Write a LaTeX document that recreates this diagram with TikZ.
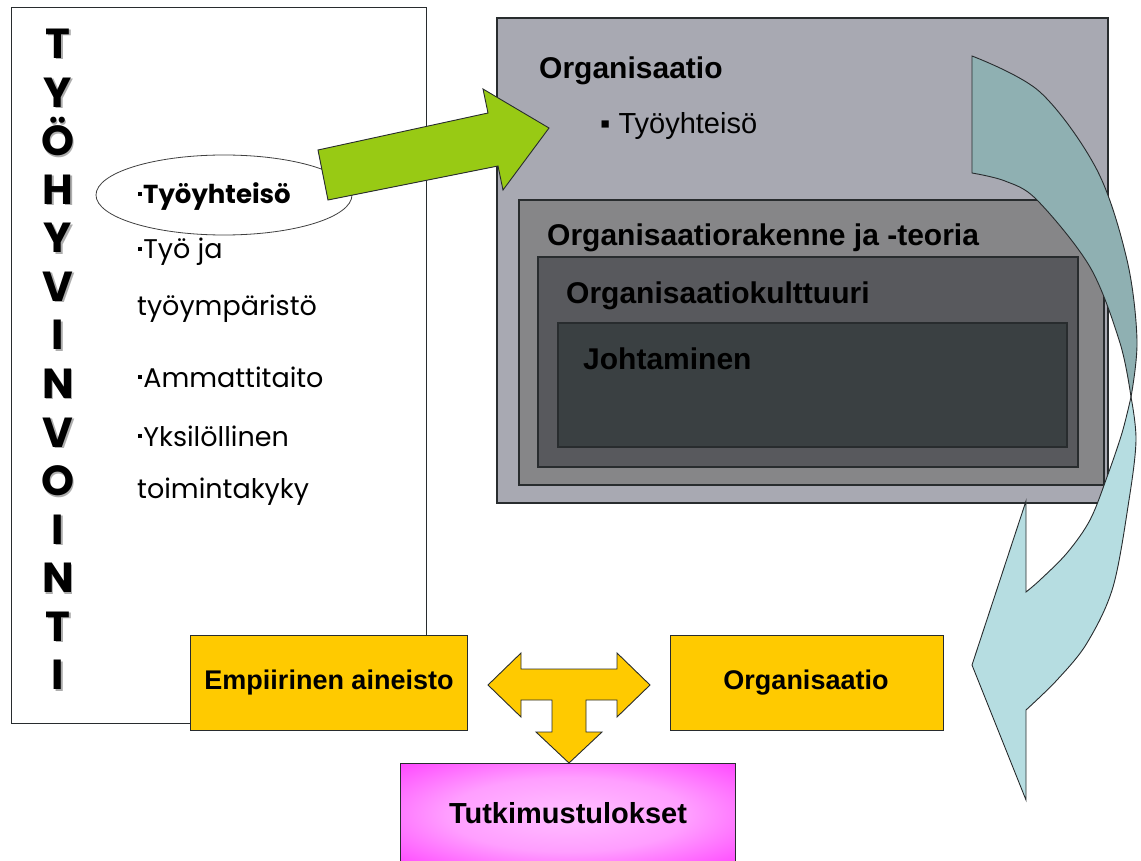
\documentclass[tikz,border=0pt]{standalone}
\usepackage{fontspec}
\setmainfont{Liberation Sans}
\newfontfamily\handfont{Poppins}
\definecolor{paneA}{RGB}{168,169,178}
\definecolor{paneB}{RGB}{134,134,136}
\definecolor{paneC}{RGB}{88,89,93}
\definecolor{paneD}{RGB}{58,64,66}
\definecolor{boxyellow}{RGB}{255,202,0}
\definecolor{limegreen}{RGB}{152,202,20}
\definecolor{tealback}{RGB}{143,176,178}
\definecolor{tealfront}{RGB}{182,221,225}
\definecolor{edge}{RGB}{40,44,46}
\pgfdeclareradialshading{pinkglow}{\pgfpoint{0bp}{0bp}}{%
  color(0bp)=(white!75!magenta); color(18bp)=(white!62!magenta);
  color(50bp)=(magenta)}
\newcommand\sqbullet{\raisebox{0.3em}{\rule{0.15em}{0.15em}}\hspace{0.04em}}
\begin{document}
\begin{tikzpicture}[x=1pt,y=-1pt,line join=miter,
  frame/.style={draw=edge,line width=1pt},
  pane/.style={draw=edge,line width=1.1pt},
  blockarrow/.style={draw=edge,line width=0.9pt},
  title/.style={font=\fontsize{30}{30}\selectfont\bfseries,anchor=base west,inner sep=0pt},
  subtitle/.style={font=\fontsize{29}{29}\selectfont,anchor=base west,inner sep=0pt},
  listitem/.style={font=\handfont\fontsize{27}{27}\selectfont,anchor=base west,inner sep=0pt},
  letter/.style={font=\handfont\bfseries\fontsize{42}{42}\selectfont,anchor=base,inner sep=0pt},
  boxlabel/.style={font=\fontsize{27}{27}\selectfont\bfseries,inner sep=0pt}]
\useasboundingbox (0,0) rectangle (1141,861);

% left panel with the vertical word
\draw[frame,fill=white] (11,8) rectangle (426,723);
\foreach \ch [count=\i from 0] in {T,Y,Ö,H,Y,V,I,N,V,O,I,N,T,I}{
  \node[letter,text=black!32] at (59.5,{60+48.57*\i}) {\ch};
  \node[letter] (w\i) at (58,{58.5+48.57*\i}) {\ch};
}

% list of factors
\draw[line width=0.8pt,draw=black!75] (224,195) ellipse [x radius=128pt,y radius=40pt];
\node[listitem,font=\handfont\bfseries\fontsize{26}{26}\selectfont] (f1) at (138,204) {\sqbullet Työyhteisö};
\node[listitem] (f2) at (138,259) {\sqbullet Työ ja};
\node[listitem] (f2b) at (137,316) {työympäristö};
\node[listitem] (f3) at (138,387) {\sqbullet Ammattitaito};
\node[listitem] (f4) at (138,446) {\sqbullet Yksilöllinen};
\node[listitem] (f4b) at (137,498) {toimintakyky};

% nested organisation panes
\draw[pane,fill=paneA] (497,18) rectangle (1108,503);
\draw[pane,fill=paneB] (519,200) rectangle (1104,485);
\draw[pane,fill=paneC] (538,257) rectangle (1078,467);
\draw[pane,fill=paneD] (558,323) rectangle (1067,447);
\node[title] (org) at (539,79) {Organisaatio};
\node[subtitle] (orgsub) at (600,134) {▪ Työyhteisö};
\node[title] (rak) at (547,246) {Organisaatiorakenne ja -teoria};
\node[title] (kult) at (566,303) {Organisaatiokulttuuri};
\node[title] (joht) at (583,369) {Johtaminen};

% green block arrow from the circled item to the organisation pane
\filldraw[blockarrow,fill=limegreen]
  (318,150) -- (488,113) -- (483,89) -- (549,128) -- (503,190) -- (498,166) -- (328,200) -- cycle;

% curved return arrow: shaded back part
\filldraw[blockarrow,fill=tealback]
  plot[smooth,tension=0.55] coordinates {(972,56) (1040,92) (1097,170) (1127,260) (1137,340) (1131,397)}
  -- plot[smooth,tension=0.55] coordinates {(1131,397) (1120,343) (1090,267) (1037,200) (1005,181) (972,173)}
  -- cycle;
% curved return arrow: front part with head
\filldraw[blockarrow,fill=tealfront]
  plot[smooth,tension=0.55] coordinates {(1131,397) (1136,440) (1129,500) (1113,587) (1087,643) (1057,680) (1026,710)}
  -- (1026,800) -- (972,665) -- (1026,501) -- (1026,592)
  -- plot[smooth,tension=0.55] coordinates {(1026,592) (1040,580) (1067,553) (1090,520) (1107,477) (1122,433) (1131,397)}
  -- cycle;

% yellow boxes
\draw[frame,fill=boxyellow] (190,635) rectangle (467,730);
\node[boxlabel] (emp) at (329,683) {Empiirinen aineisto};
\draw[frame,fill=boxyellow] (670,635) rectangle (943,730);
\node[boxlabel] (org2) at (806,683) {Organisaatio};

% three-way yellow arrow
\filldraw[blockarrow,fill=boxyellow]
  (488,685) -- (521,653) -- (521,669) -- (617,669) -- (617,653) -- (650,685)
  -- (617,717) -- (617,700) -- (586,700) -- (586,732) -- (602,732) -- (569,763)
  -- (536,732) -- (552,732) -- (552,700) -- (521,700) -- (521,717) -- cycle;

% results box
\shade[shading=pinkglow] (400,763) rectangle (735,866);
\draw[frame] (400,866) -- (400,763) -- (735,763) -- (735,866);
\node[boxlabel,font=\fontsize{29}{29}\selectfont\bfseries] (res) at (568,813) {Tutkimustulokset};
\end{tikzpicture}
\end{document}
